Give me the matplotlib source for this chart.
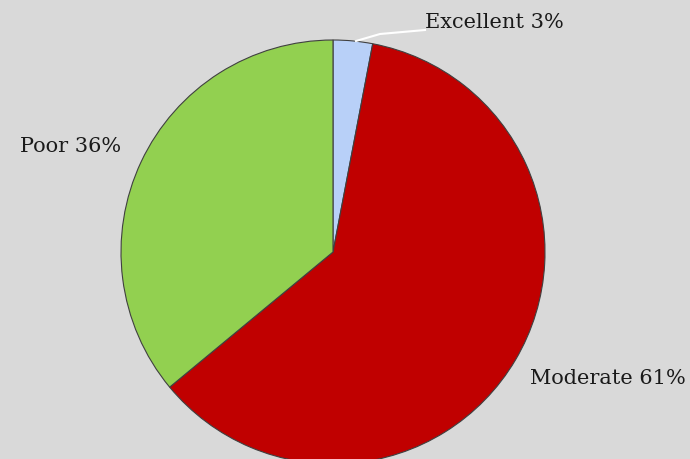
import matplotlib.pyplot as plt

labels = ["Excellent", "Moderate", "Poor"]
values = [3, 61, 36]
colors = ["#b8d0f8", "#c00000", "#92d050"]

fig = plt.figure(figsize=(6.9, 4.59), dpi=100)
fig.patch.set_facecolor("#d9d9d9")
ax = fig.add_axes([0, 0, 1, 1])
ax.set_facecolor("#d9d9d9")

# centre and radius, in pixels
ax.pie(values, colors=colors, startangle=90, counterclock=False,
       center=(333, 207), radius=212,
       wedgeprops={"edgecolor": "#404040", "linewidth": 0.8})
ax.set_xlim(0, 690)
ax.set_ylim(0, 459)
ax.set_aspect("equal")
ax.axis("off")

font = {"family": "DejaVu Serif", "size": 15, "color": "#1a1a1a"}
ax.plot([356, 380, 425], [418, 425, 429], color="white", lw=1.5)
ax.text(425, 436, "Excellent 3%", va="center", ha="left", **font)
ax.text(20, 313, "Poor 36%", va="center", ha="left", **font)
ax.text(530, 80, "Moderate 61%", va="center", ha="left", **font)

fig.savefig("out.png", dpi=100, facecolor=fig.get_facecolor())
